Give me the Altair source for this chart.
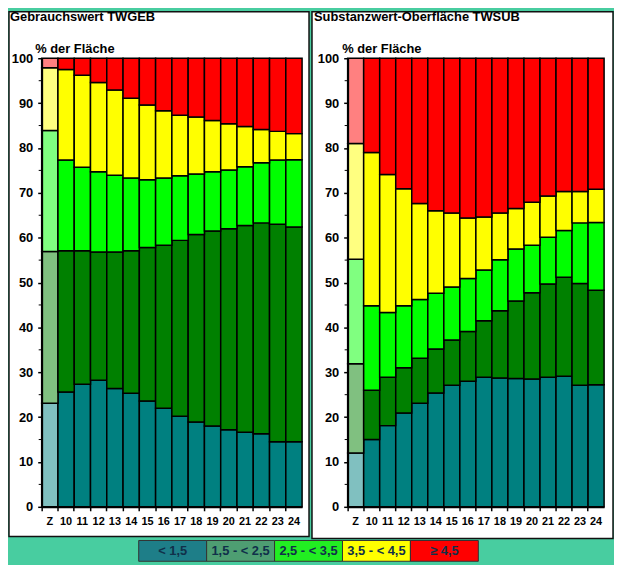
import altair as alt
import pandas as pd

categories = ["Z", "10", "11", "12", "13", "14", "15", "16", "17", "18", "19", "20", "21", "22", "23", "24"]
classes = ["< 1,5", "1,5 - < 2,5", "2,5 - < 3,5", "3,5 - < 4,5", "≥ 4,5"]

# Gebrauchswert TWGEB (% der Fläche per class)
geb_c1 = [23.1, 25.6, 27.3, 28.2, 26.4, 25.3, 23.6, 22.0, 20.2, 18.9, 18.0, 17.2, 16.6, 16.3, 14.5, 14.5]
geb_c2 = [33.8, 31.5, 29.8, 28.6, 30.4, 31.8, 34.2, 36.3, 39.2, 41.8, 43.5, 44.8, 46.1, 47.0, 48.5, 47.9]
geb_c3 = [27.0, 20.2, 18.6, 17.9, 17.1, 16.2, 15.1, 15.0, 14.4, 13.5, 13.2, 13.1, 13.1, 13.4, 14.3, 15.0]
geb_c4 = [14.0, 20.2, 20.5, 19.9, 19.0, 17.8, 16.7, 15.0, 13.5, 12.7, 11.4, 10.3, 9.0, 7.4, 6.4, 5.8]
geb_c5 = [2.1, 2.5, 3.8, 5.4, 7.1, 8.9, 10.4, 11.7, 12.7, 13.1, 13.9, 14.6, 15.2, 15.9, 16.3, 16.8]

# Substanzwert-Oberfläche TWSUB
sub_c1 = [12.0, 15.0, 18.1, 20.9, 23.1, 25.4, 27.1, 28.0, 28.9, 28.7, 28.6, 28.5, 28.9, 29.1, 27.1, 27.2]
sub_c2 = [19.9, 11.0, 10.8, 10.1, 10.0, 9.8, 10.1, 11.1, 12.6, 15.0, 17.3, 19.2, 20.8, 22.1, 22.7, 21.1]
sub_c3 = [23.3, 18.8, 14.4, 13.8, 13.1, 12.4, 11.8, 11.8, 11.3, 11.4, 11.6, 10.6, 10.4, 10.4, 13.5, 15.1]
sub_c4 = [25.8, 34.2, 30.8, 26.1, 21.4, 18.4, 16.5, 13.5, 11.8, 10.4, 9.0, 9.6, 9.2, 8.7, 7.0, 7.4]
sub_c5 = [19.0, 21.0, 25.9, 29.1, 32.4, 34.0, 34.5, 35.6, 35.4, 34.5, 33.5, 32.1, 30.7, 29.7, 29.7, 29.2]

bar_colors = ["#008080", "#008000", "#00FF00", "#FFFF00", "#FF0000"]
z_colors = ["#80C0C0", "#80C080", "#80FF80", "#FFFF80", "#FF8080"]
legend_colors = ["#1E7E88", "#4E9E72", "#22EE22", "#FFFF00", "#FF0000"]
minor_ticks = [5, 15, 25, 35, 45, 55, 65, 75, 85, 95]

FONT = "Liberation Sans"
BG = "#48CDA0"
H = 453


def long_df(series):
    rows = []
    for ci, vals in enumerate(series):
        for cat, v in zip(categories, vals):
            key = ("Z" if cat == "Z" else "B") + str(ci)
            rows.append({"cat": cat, "cls": ci, "value": v, "key": key})
    return pd.DataFrame(rows)


keys = ["B%d" % i for i in range(5)] + ["Z%d" % i for i in range(5)]
key_colors = bar_colors + z_colors


def panel(title, series, width, left, right, bottom, title_x, ytitle_x):
    df = long_df(series)
    one = pd.DataFrame({"a": [0]})
    bg = alt.Chart(one).mark_rect(fill="white", stroke="#111", strokeWidth=1.5).encode(
        x=alt.value(left), x2=alt.value(width + right),
        y=alt.value(-47), y2=alt.value(H + bottom))
    bars = alt.Chart(df).mark_bar(stroke="black", strokeWidth=1.5).encode(
        x=alt.X("cat:N", sort=categories,
                scale=alt.Scale(paddingInner=0, paddingOuter=0),
                axis=alt.Axis(title=None, labelAngle=0, labelFontSize=11, labelFontWeight="bold",
                              labelFont=FONT, labelColor="black", tickColor="black", tickSize=4,
                              tickWidth=1.5, domainColor="black", domainWidth=2, labelPadding=5,
                              bandPosition=0, zindex=1)),
        y=alt.Y("value:Q", stack="zero",
                scale=alt.Scale(domain=[0, 100], nice=False),
                axis=alt.Axis(title="% der Fläche", values=list(range(0, 101, 10)), grid=False,
                              labelFontSize=13, labelFontWeight="bold", labelFont=FONT,
                              labelColor="black", tickColor="black", tickSize=4, tickWidth=1.5,
                              domainColor="black", domainWidth=2, labelPadding=5,
                              titleAngle=0, titleAlign="left", titleBaseline="alphabetic",
                              titleX=ytitle_x, titleY=-6, titleFontSize=13, titleFontWeight="bold",
                              titleFont=FONT, titleColor="black", zindex=1)),
        color=alt.Color("key:N", scale=alt.Scale(domain=keys, range=key_colors), legend=None),
        order=alt.Order("cls:Q"),
    )
    minor = alt.Chart(pd.DataFrame({"v": minor_ticks})).mark_rule(color="black", strokeWidth=1).encode(
        x=alt.value(-3), x2=alt.value(0), y=alt.Y("v:Q"))
    ttl = alt.Chart(one).mark_text(text=title, align="left", baseline="alphabetic", fontSize=13,
                                   fontWeight="bold", font=FONT, color="black").encode(
        x=alt.value(title_x), y=alt.value(-37.5))
    return alt.layer(bg, bars, minor, ttl).properties(width=width, height=H)


left_panel = panel("Gebrauchswert TWGEB", [geb_c1, geb_c2, geb_c3, geb_c4, geb_c5],
                   263, -33, 7, 30, -32, -7)
right_panel = panel("Substanzwert-Oberfläche TWSUB", [sub_c1, sub_c2, sub_c3, sub_c4, sub_c5],
                    259, -36, 9, 32, -34, -6)

leg_df = pd.DataFrame({"cls": classes, "col": legend_colors})
leg_base = alt.Chart(leg_df).encode(
    x=alt.X("cls:N", sort=classes, scale=alt.Scale(range=[98, 441], paddingInner=0, paddingOuter=0),
            axis=None))
leg_rect = leg_base.mark_rect(stroke="#333", strokeWidth=1).encode(
    y=alt.value(0), y2=alt.value(21),
    color=alt.Color("col:N", scale=None, legend=None))
leg_text = leg_base.mark_text(fontSize=13, fontWeight="bold", font=FONT, color="#10304A",
                              baseline="middle").encode(y=alt.value(11), text="cls:N")
legend = alt.layer(leg_rect, leg_text).properties(width=441, height=21)

chart = alt.vconcat(
    alt.hconcat(left_panel, right_panel, spacing=1),
    legend, spacing=0,
).resolve_scale(color="independent").properties(background=BG, padding=0).configure_view(stroke=None)

chart.save("out.html", embed_options={"renderer": "svg", "actions": False})
